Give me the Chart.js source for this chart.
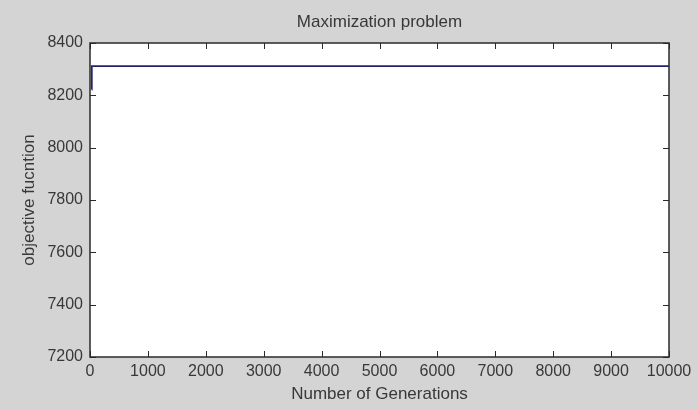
<!DOCTYPE html>
<html>
<head>
<meta charset="utf-8">
<script src="https://cdn.jsdelivr.net/npm/chart.js@4.4.1/dist/chart.umd.min.js"></script>
<style>
  html, body { margin: 0; padding: 0; background: #d4d4d4; }
  #wrap { width: 697px; height: 409px; }
</style>
</head>
<body>
<div id="wrap"><canvas id="chart-objective"></canvas></div>
<script>
const generations = [30, 31, 10000];
const objective = [8222, 8312, 8312];
const xTicks = [0, 1000, 2000, 3000, 4000, 5000, 6000, 7000, 8000, 9000, 10000];
const yTicks = [7200, 7400, 7600, 7800, 8000, 8200, 8400];

const textColor = '#383838';
const fontName = 'Liberation Sans';

// MATLAB style box with ticks pointing inward on all four sides
const matlabBox = {
    id: 'matlabBox',
    beforeDatasetsDraw(chart) {
        const { ctx, chartArea: a } = chart;
        ctx.save();
        ctx.fillStyle = '#ffffff';
        ctx.fillRect(a.left, a.top, a.right - a.left, a.bottom - a.top);
        ctx.restore();
    },
    afterDraw(chart) {
        const { ctx, chartArea: a, scales } = chart;
        ctx.save();
        ctx.strokeStyle = '#2a2a2a';
        ctx.lineWidth = 1;
        ctx.beginPath();
        xTicks.forEach(v => {
            const px = Math.round(scales.x.getPixelForValue(v)) + 0.5;
            ctx.moveTo(px, a.bottom); ctx.lineTo(px, a.bottom - 6);
            ctx.moveTo(px, a.top); ctx.lineTo(px, a.top + 6);
        });
        yTicks.forEach(v => {
            const py = Math.round(scales.y.getPixelForValue(v)) + 0.5;
            ctx.moveTo(a.left, py); ctx.lineTo(a.left + 6, py);
            ctx.moveTo(a.right, py); ctx.lineTo(a.right - 6, py);
        });
        ctx.stroke();
        ctx.lineWidth = 1.5;
        ctx.strokeRect(a.left, a.top, a.right - a.left, a.bottom - a.top);
        ctx.restore();
    }
};

const ctx = document.getElementById('chart-objective').getContext('2d');
new Chart(ctx, {
    type: 'line',
    data: {
        datasets: [{
            data: generations.map((g, i) => ({ x: g, y: objective[i] })),
            borderColor: '#25256e',
            borderWidth: 1.8,
            pointRadius: 0,
            tension: 0,
            fill: false
        }]
    },
    options: {
        responsive: true,
        maintainAspectRatio: false,
        animation: false,
        layout: { padding: { top: 0, right: 28, bottom: 0, left: 0 } },
        plugins: {
            legend: { display: false },
            tooltip: { enabled: false }
        },
        scales: {
            x: {
                type: 'linear',
                min: 0,
                max: 10000,
                afterBuildTicks: scale => { scale.ticks = xTicks.map(v => ({ value: v })); },
                afterFit: scale => { scale.height = 52; },
                grid: { display: false, drawTicks: false },
                border: { display: false },
                ticks: {
                    color: textColor,
                    font: { family: fontName, size: 16 },
                    padding: 5,
                    maxRotation: 0,
                    autoSkip: false,
                    callback: v => String(v)
                },
                title: {
                    display: true,
                    text: 'Number of Generations',
                    color: textColor,
                    font: { family: fontName, size: 17 },
                    padding: { top: 0, bottom: 4 }
                }
            },
            // top axis only carries the chart title, centred over the plot box
            x2: {
                type: 'linear',
                position: 'top',
                min: 0,
                max: 10000,
                afterFit: scale => { scale.height = 43; },
                grid: { display: false, drawTicks: false },
                border: { display: false },
                ticks: { display: false },
                title: {
                    display: true,
                    text: 'Maximization problem',
                    color: textColor,
                    font: { family: fontName, size: 17 },
                    padding: { top: 12, bottom: 0 }
                }
            },
            y: {
                min: 7200,
                max: 8400,
                afterBuildTicks: scale => { scale.ticks = yTicks.map(v => ({ value: v })); },
                afterFit: scale => { scale.width = 90; },
                grid: { display: false, drawTicks: false },
                border: { display: false },
                ticks: {
                    color: textColor,
                    font: { family: fontName, size: 16 },
                    padding: 7,
                    callback: v => String(v)
                },
                title: {
                    display: true,
                    text: 'objective fucntion',
                    color: textColor,
                    font: { family: fontName, size: 17 },
                    padding: { top: 19, bottom: 0 }
                }
            }
        }
    },
    plugins: [matlabBox]
});
</script>
</body>
</html>
